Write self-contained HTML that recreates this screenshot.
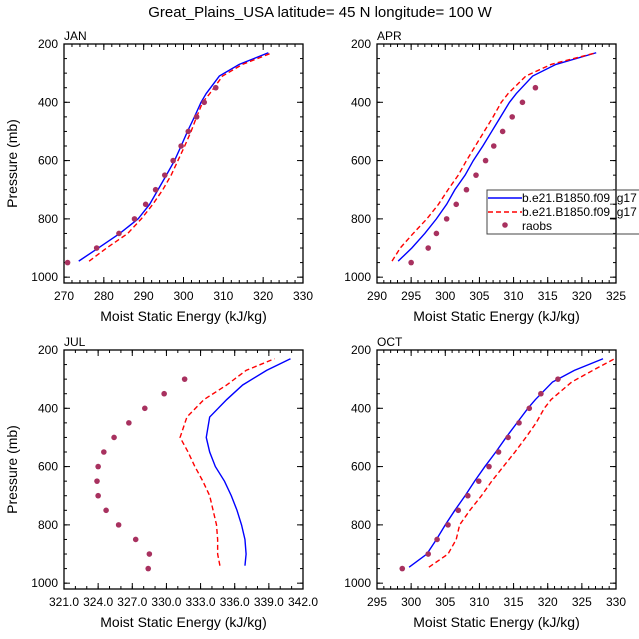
<!DOCTYPE html>
<html><head><meta charset="utf-8">
<style>
html,body{margin:0;padding:0;background:#fff;}
svg{display:block;font-family:"Liberation Sans",Arial,sans-serif;}
</style></head>
<body>
<svg id="chart" width="639" height="639" viewBox="0 0 639 639">
<text x="320" y="17" font-size="15" text-anchor="middle">Great_Plains_USA  latitude= 45 N longitude= 100 W</text>
</svg>
<script>
// ---- data ----
const obsP = [950,900,850,800,750,700,650,600,550,500,450,400,350,300];
const modP = [945,900,850,800,750,700,650,600,550,500,450,400,370,310,270,230];
const janObs = [270.9,278.2,283.8,287.7,290.5,293,295.3,297.4,299.4,301.2,303.3,305.2,308.1];
const janBlue = [273.7,278.6,284,288.6,291.5,293.6,295.7,297.75,299.4,301,302.75,304.4,305.7,309,314,321.3];
const janRed = [276.3,280.7,286,289.4,292.3,294.8,296.9,298.6,300.3,301.9,303.3,304.8,306.6,309.8,314.8,322.3];
const aprObs = [295,297.5,298.7,300.2,301.6,303.1,304.5,305.9,307.1,308.4,309.8,311.3,313.2];
const aprBlue = [293.1,295.1,297,298.7,300.2,301.4,302.9,304.1,305.5,306.8,308.1,309.4,310.4,312.8,316.2,322.1];
const aprRed = [292.2,293.4,295.3,297.3,299,300.4,301.9,303.1,304.4,305.7,307,308.2,309.2,311.8,315.5,322.1];
const julObs = [328.4,328.5,327.3,325.8,324.7,324,323.9,324,324.5,325.4,326.7,328.1,329.8,331.6];
const julP = [940,900,850,800,750,700,650,600,550,500,430,370,320,270,230];
const julBlue = [336.9,337,336.9,336.6,336.2,335.7,335.1,334.3,333.8,333.5,333.8,335.3,336.7,338.8,340.9];
const julRed = [334.7,334.5,334.5,334.4,334.1,333.8,333.2,332.5,331.9,331.2,331.8,333.3,335.3,337,339.5];
const octObs = [298.7,302.5,303.8,305.4,306.9,308.3,309.9,311.4,312.8,314.2,315.8,317.3,319,321.5];
const octBlue = [299.7,302.3,303.7,305,306.4,307.9,309.3,310.8,312.4,313.9,315.5,317.1,318.2,320.7,323.9,328.1];
const octRed = [302.6,305.4,306.6,307.1,308.6,310.3,311.8,313.5,315.2,316.8,318.3,319.5,320.5,323.5,326.6,329.8];
const yTicks = [200,400,600,800,1000];
const janTicks = [270,280,290,300,310,320,330];
const aprTicks = [290,295,300,305,310,315,320,325];
const julTicks = ["321.0","324.0","327.0","330.0","333.0","336.0","339.0","342.0"];
const octTicks = [295,300,305,310,315,320,325,330];

const NS="http://www.w3.org/2000/svg";
const svg=document.getElementById('chart');
function mk(tag,attrs,parent){const e=document.createElementNS(NS,tag);for(const k in attrs)e.setAttribute(k,attrs[k]);(parent||svg).appendChild(e);return e;}

function panel(o){
  const g=mk('g',{});
  
  
  const L=o.left,R=o.left+239,T=o.top,B=o.top+239;
  const xmin=o.xmin,xmax=o.xmax;
  const X=v=>L+(v-xmin)/(xmax-xmin)*(R-L);
  const Y=p=>T+(p-200)/(1020-200)*(B-T);
  // minor ticks x
  for(let v=xmin;v<=xmax+1e-9;v+=o.minor){
    const x=X(v);
    mk('line',{x1:x,y1:B,x2:x,y2:B-3,stroke:'#000','stroke-width':1},g);
    mk('line',{x1:x,y1:T,x2:x,y2:T+3,stroke:'#000','stroke-width':1},g);
  }
  for(let p=250;p<=1000;p+=50){
    const y=Y(p);
    mk('line',{x1:L,y1:y,x2:L+3,y2:y,stroke:'#000','stroke-width':1},g);
    mk('line',{x1:R,y1:y,x2:R-3,y2:y,stroke:'#000','stroke-width':1},g);
  }
  o.ticks.forEach(t=>{
    const x=X(parseFloat(t));
    mk('line',{x1:x,y1:B,x2:x,y2:B-6,stroke:'#000','stroke-width':1},g);
    mk('line',{x1:x,y1:T,x2:x,y2:T+6,stroke:'#000','stroke-width':1},g);
    const tx=mk('text',{x:x,y:B+17,'font-size':12,'text-anchor':'middle'},g);
    tx.textContent=t;
    
    
  });
  yTicks.forEach(p=>{
    const y=Y(p);
    mk('line',{x1:L,y1:y,x2:L+6,y2:y,stroke:'#000','stroke-width':1},g);
    mk('line',{x1:R,y1:y,x2:R-6,y2:y,stroke:'#000','stroke-width':1},g);
    const tx=mk('text',{x:L-6,y:y+4,'font-size':12,'text-anchor':'end'},g);
    tx.textContent=p;
    
    
  });
  const fr=mk('rect',{x:L,y:T,width:R-L,height:B-T,fill:'none',stroke:'#000','stroke-width':1.3},g);
  
  
  const lab=mk('text',{x:L,y:T-4,'font-size':12},g);
  lab.textContent=o.label;
  
  
  const xt=mk('text',{x:(L+R)/2,y:B+38,'font-size':14,'text-anchor':'middle'},g);
  xt.textContent='Moist Static Energy (kJ/kg)';
  
  
  if(o.ytitle){
    const yt=mk('text',{x:0,y:0,'font-size':14,'text-anchor':'middle',transform:'translate(17,'+((T+B)/2)+') rotate(-90)'},g);
    yt.textContent='Pressure (mb)';
    
    
  }
  const mp=o.mp||modP;
  const bl=mk('polyline',{points:o.blue.map((v,i)=>X(v)+','+Y(mp[i])).join(' '),fill:'none',stroke:'#0000ff','stroke-width':1.4},g);
  
  
  const rl=mk('polyline',{points:o.red.map((v,i)=>X(v)+','+Y(mp[i])).join(' '),fill:'none',stroke:'#ff0000','stroke-width':1.4,'stroke-dasharray':'5,3'},g);
  
  
  o.obs.forEach((v,i)=>{
    const c=mk('circle',{cx:X(v),cy:Y(obsP[i]),r:2.8,fill:'#a8315f'},g);
    
    
  });
}
panel({name:'jan',label:'JAN',left:64,top:44,xmin:270,xmax:330,minor:2,ticks:janTicks,obs:janObs,blue:janBlue,red:janRed,ytitle:true});
panel({name:'apr',label:'APR',left:377,top:44,xmin:290,xmax:325,minor:1,ticks:aprTicks,obs:aprObs,blue:aprBlue,red:aprRed});
panel({name:'jul',label:'JUL',left:64,top:350,xmin:321,xmax:342,minor:1,ticks:julTicks,obs:julObs,blue:julBlue,red:julRed,mp:julP,ytitle:true});
panel({name:'oct',label:'OCT',left:377,top:350,xmin:295,xmax:330,minor:1,ticks:octTicks,obs:octObs,blue:octBlue,red:octRed});

// legend
const lg=mk('g',{});


mk('rect',{x:487,y:190,width:160,height:44,fill:'none',stroke:'#444','stroke-width':1},lg);
mk('line',{x1:488,y1:198,x2:522,y2:198,stroke:'#0000ff','stroke-width':1.4},lg);
mk('line',{x1:488,y1:212,x2:522,y2:212,stroke:'#ff0000','stroke-width':1.4,'stroke-dasharray':'5,3'},lg);
mk('circle',{cx:505,cy:225,r:2.8,fill:'#a8315f'},lg);
[['b.e21.B1850.f09_g17','legend-entry-model-1',202],['b.e21.B1850.f09_g17','legend-entry-model-2',216],['raobs','legend-entry-raobs',230]].forEach(a=>{
  const t=mk('text',{x:522,y:a[2],'font-size':12},lg);
  t.textContent=a[0];
  
  
});
</script>
</body></html>
